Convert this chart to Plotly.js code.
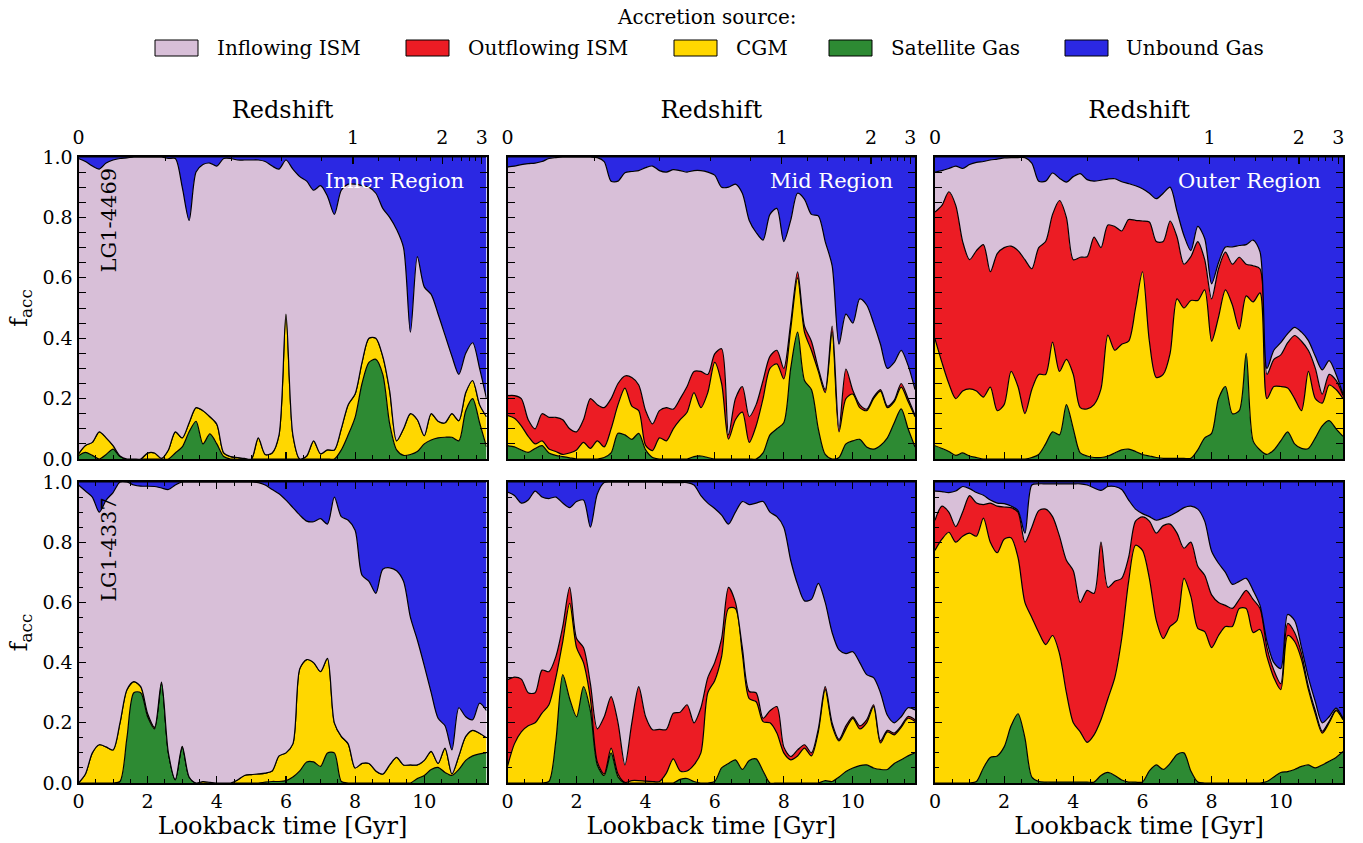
<!DOCTYPE html>
<html>
<head>
<meta charset="utf-8">
<script src="https://cdn.plot.ly/plotly-3.0.1.min.js"></script>
<style>html,body{margin:0;padding:0;background:#fff;}#chart{width:1363px;height:843px;}</style>
</head>
<body>
<div id="chart"></div>
<script>
// ---------------- data (fractions) ----------------
const lookbackGyr = [0,0.2,0.4,0.6,0.8,1.0,1.2,1.4,1.6,1.8,2.0,2.2,2.4,2.6,2.8,3.0,3.2,3.4,3.6,3.8,
  4.0,4.2,4.4,4.6,4.8,5.0,5.2,5.4,5.6,5.8,6.0,6.2,6.4,6.6,6.8,7.0,7.2,7.4,7.6,7.8,
  8.0,8.2,8.4,8.6,8.8,9.0,9.2,9.4,9.6,9.8,10.0,10.2,10.4,10.6,10.8,11.0,11.2,11.4,11.6,11.8];

const sourceNames = ['Satellite Gas','CGM','Outflowing ISM','Inflowing ISM','Unbound Gas'];
const legendOrder = ['Inflowing ISM','Outflowing ISM','CGM','Satellite Gas','Unbound Gas'];
const galaxyLabels = ['LG1-4469','LG1-4337'];
const regionLabels = ['Inner Region','Mid Region','Outer Region'];
const redshiftTicks = [0,1,2,3];
const redshiftMinor = [0.2,0.4,0.6,0.8,1.2,1.4,1.6,1.8,2.2,2.4,2.6,2.8];

// LG1-4469, inner region
const inner4469_satellite = [0.011,0.022,0.012,0,0.015,0.033,0.008,0,0,0, 0,0,0,0,0.02,0.04,0.09,0.125,0.05,0.083,
  0.05,0.008,0,0,0,0,0,0,0,0, 0,0,0,0,0,0,0,0,0.03,0.08,
  0.138,0.25,0.32,0.33,0.28,0.116,0.03,0.012,0.015,0.025, 0.05,0.063,0.07,0.072,0.072,0.06,0.16,0.2,0.12,0.04];
const inner4469_cgm = [0.006,0.023,0.043,0.09,0.055,0.011,0.002,0,0,0, 0.02,0.02,0.002,0.03,0.07,0.03,0.03,0.045,0.11,0.057,
  0.065,0.012,0.008,0.005,0.002,0,0.07,0.015,0.02,0.08, 0.48,0.08,0,0.01,0.06,0.017,0.03,0.03,0.07,0.1,
  0.077,0.07,0.08,0.07,0.06,0.109,0.03,0.088,0.135,0.105, 0.027,0.087,0.055,0.048,0.078,0.067,0.06,0.06,0.06,0.1];
const inner4469_outflow = [0,0,0,0,0,0,0,0,0,0, 0,0,0,0,0,0,0,0,0,0, 0,0,0,0,0,0,0,0,0,0,
  0,0,0,0,0,0,0,0,0,0, 0,0,0,0,0,0,0,0,0,0, 0,0,0,0,0,0,0,0,0,0];
const inner4469_inflow = [0.978,0.94,0.915,0.87,0.91,0.946,0.985,0.997,1,1, 0.98,0.98,0.998,0.965,0.905,0.83,0.67,0.78,0.815,0.84,
  0.855,0.975,0.987,0.985,0.988,0.99,0.92,0.97,0.95,0.88, 0.51,0.88,0.935,0.91,0.83,0.888,0.84,0.78,0.79,0.73,
  0.695,0.585,0.5,0.48,0.49,0.575,0.7,0.6,0.27,0.54, 0.493,0.395,0.355,0.29,0.19,0.153,0.13,0.125,0.12,0.06];
const inner4469_unbound = [0.005,0.015,0.03,0.04,0.02,0.01,0.005,0.003,0,0, 0,0,0,0.005,0.005,0.1,0.21,0.05,0.025,0.02,
  0.03,0.005,0.005,0.01,0.01,0.01,0.01,0.015,0.03,0.04, 0.01,0.04,0.065,0.08,0.11,0.095,0.13,0.19,0.11,0.09,
  0.09,0.095,0.1,0.12,0.17,0.2,0.24,0.3,0.58,0.33, 0.43,0.455,0.52,0.59,0.66,0.72,0.65,0.615,0.7,0.8];

// LG1-4469, mid region
const mid4469_satellite = [0.044,0.04,0.03,0.022,0.035,0.044,0.02,0.012,0.008,0.004, 0,0,0,0,0.005,0.02,0.085,0.08,0.065,0.085,
  0.03,0.005,0,0,0,0,0,0.008,0.01,0.005, 0,0,0,0,0,0,0,0.02,0.08,0.1,
  0.12,0.3,0.42,0.26,0.23,0.1,0.015,0,0.005,0.05, 0.06,0.065,0.04,0.033,0.045,0.07,0.12,0.166,0.1,0.04];
const mid4469_cgm = [0.1,0.095,0.08,0.053,0.015,0.016,0.013,0.013,0.007,0.016, 0.03,0.055,0.035,0.06,0.035,0.08,0.095,0.155,0.11,0.075,
  0.015,0.023,0.07,0.06,0.1,0.13,0.155,0.212,0.16,0.215, 0.32,0.25,0.066,0.13,0.155,0.055,0.11,0.18,0.22,0.215,
  0.145,0.13,0.18,0.16,0.13,0.19,0.205,0.42,0.085,0.15, 0.155,0.105,0.12,0.167,0.18,0.1,0.07,0.072,0.09,0.1];
const mid4469_outflow = [0.066,0.075,0.09,0.055,0.05,0.09,0.105,0.113,0.115,0.08, 0.06,0.075,0.165,0.12,0.13,0.1,0.07,0.04,0.095,0.085,
  0.115,0.088,0.09,0.11,0.065,0.07,0.085,0.07,0.12,0.06, 0.028,0.115,0.014,0.07,0.085,0.085,0.07,0.06,0.04,0.045,
  0.035,0.02,0.02,0.02,0.03,0.01,0.01,0.02,0.01,0.098, 0.012,0.01,0.005,0.005,0.005,0.005,0.005,0.012,0.01,0.005];
const mid4469_inflow = [0.757,0.76,0.775,0.848,0.88,0.835,0.857,0.86,0.87,0.9, 0.91,0.87,0.8,0.818,0.815,0.72,0.67,0.673,0.682,0.71,
  0.805,0.854,0.795,0.78,0.793,0.755,0.71,0.665,0.665,0.67, 0.592,0.535,0.82,0.71,0.64,0.65,0.57,0.465,0.47,0.47,
  0.42,0.34,0.26,0.42,0.42,0.505,0.49,0.2,0.28,0.182, 0.223,0.35,0.345,0.245,0.15,0.125,0.125,0.11,0.11,0.085];
const mid4469_unbound = [0.033,0.03,0.025,0.022,0.02,0.015,0.005,0.002,0,0, 0,0,0,0.002,0.015,0.08,0.08,0.052,0.048,0.045,
  0.035,0.03,0.045,0.05,0.042,0.045,0.05,0.045,0.045,0.05, 0.06,0.1,0.1,0.09,0.12,0.21,0.25,0.275,0.19,0.17,
  0.28,0.21,0.12,0.14,0.19,0.195,0.28,0.36,0.62,0.52, 0.55,0.47,0.49,0.55,0.62,0.7,0.68,0.64,0.69,0.77];

// LG1-4469, outer region
const outer4469_satellite = [0.044,0.035,0.025,0.012,0.02,0.01,0.005,0,0,0, 0,0,0,0,0.005,0.015,0.05,0.09,0.08,0.18,
  0.1,0.02,0.01,0.005,0.005,0.01,0.02,0.03,0.033,0.025, 0.015,0.01,0.005,0.002,0.002,0.002,0.002,0.002,0.03,0.07,
  0.085,0.2,0.24,0.15,0.16,0.35,0.06,0.03,0.015,0.03, 0.06,0.09,0.05,0.035,0.035,0.07,0.11,0.127,0.1,0.075];
const outer4469_cgm = [0.354,0.285,0.225,0.188,0.205,0.222,0.22,0.205,0.238,0.16, 0.18,0.29,0.24,0.15,0.225,0.265,0.23,0.297,0.21,0.15,
  0.18,0.15,0.156,0.175,0.227,0.4,0.34,0.35,0.357,0.475, 0.605,0.38,0.265,0.278,0.348,0.528,0.498,0.523,0.495,0.49,
  0.305,0.27,0.32,0.36,0.27,0.19,0.46,0.52,0.185,0.21, 0.18,0.145,0.15,0.125,0.255,0.13,0.075,0.118,0.13,0.125];
const outer4469_outflow = [0.42,0.52,0.635,0.64,0.495,0.428,0.465,0.505,0.382,0.52, 0.52,0.415,0.45,0.51,0.4,0.42,0.44,0.423,0.566,0.47,
  0.38,0.498,0.504,0.555,0.468,0.365,0.41,0.375,0.403,0.29, 0.168,0.395,0.45,0.44,0.438,0.205,0.145,0.145,0.195,0.1,
  0.14,0.16,0.125,0.135,0.238,0.105,0.12,0.08,0.08,0.09, 0.105,0.15,0.209,0.23,0.069,0.1,0.03,0.035,0.03,0.01];
const outer4469_inflow = [0.132,0.115,0.077,0.13,0.242,0.315,0.292,0.275,0.37,0.313, 0.297,0.293,0.308,0.338,0.35,0.22,0.2,0.137,0.074,0.117,
  0.275,0.277,0.255,0.185,0.223,0.152,0.158,0.163,0.119,0.115, 0.107,0.095,0.142,0.16,0.112,0.085,0.095,0.02,0.05,0.07,
  0.05,0.02,0.017,0.057,0.039,0.065,0.085,0.056,0.02,0.03, 0.04,0.03,0.027,0.03,0.033,0.04,0.08,0.046,0.02,0.005];
const outer4469_unbound = [0.05,0.045,0.038,0.03,0.038,0.025,0.018,0.015,0.01,0.007, 0.003,0.002,0.002,0.002,0.02,0.08,0.08,0.053,0.07,0.083,
  0.065,0.055,0.075,0.08,0.077,0.073,0.072,0.082,0.088,0.095, 0.105,0.12,0.138,0.12,0.1,0.18,0.26,0.31,0.23,0.27,
  0.42,0.35,0.298,0.298,0.293,0.29,0.275,0.314,0.7,0.64, 0.615,0.585,0.564,0.58,0.608,0.66,0.705,0.674,0.72,0.785];

// LG1-4337, inner region
const inner4337_satellite = [0,0,0,0,0,0,0.005,0.15,0.3,0.3, 0.22,0.18,0.33,0.1,0.01,0.12,0.02,0,0,0,
  0,0,0,0,0,0,0,0.003,0.005,0.005, 0.008,0.02,0.04,0.07,0.07,0.055,0.1,0.1,0.005,0,
  0,0,0,0,0,0,0,0,0,0.015, 0.025,0.045,0.052,0.035,0.025,0.045,0.075,0.09,0.097,0.1];
const inner4337_cgm = [0,0.03,0.1,0.127,0.12,0.11,0.195,0.16,0.037,0.02, 0.01,0.005,0.005,0,0.002,0.002,0,0,0.005,0.002,
  0,0,0,0.01,0.025,0.028,0.03,0.03,0.035,0.085, 0.092,0.11,0.34,0.34,0.33,0.315,0.314,0.1,0.15,0.13,
  0.05,0.065,0.065,0.04,0.03,0.06,0.085,0.06,0.06,0.045, 0.05,0.06,0.013,0.081,0.005,0.045,0.08,0.085,0.068,0.05];
const inner4337_outflow = [0,0,0,0,0,0,0,0,0,0, 0,0,0,0,0,0,0,0,0,0, 0,0,0,0,0,0,0,0,0,0,
  0,0,0,0,0,0,0,0,0,0, 0,0,0,0,0,0,0,0,0,0, 0,0,0,0,0,0,0,0,0,0];
const inner4337_inflow = [0.99,0.94,0.85,0.773,0.82,0.855,0.8,0.69,0.653,0.666, 0.756,0.8,0.645,0.875,0.978,0.878,0.98,1,0.995,0.998,
  1,1,1,0.99,0.975,0.972,0.968,0.957,0.935,0.871, 0.84,0.785,0.51,0.46,0.468,0.508,0.446,0.75,0.73,0.743,
  0.79,0.625,0.605,0.59,0.68,0.655,0.62,0.61,0.49,0.415, 0.315,0.195,0.15,0.074,0.08,0.16,0.065,0.035,0.1,0.09];
const inner4337_unbound = [0.01,0.03,0.05,0.1,0.06,0.035,0,0,0.01,0.014, 0.014,0.015,0.02,0.025,0.01,0,0,0,0,0,
  0,0,0,0,0,0,0.002,0.01,0.025,0.039, 0.06,0.085,0.11,0.13,0.132,0.122,0.14,0.05,0.115,0.127,
  0.16,0.31,0.33,0.37,0.29,0.285,0.295,0.33,0.45,0.525, 0.61,0.7,0.785,0.81,0.89,0.75,0.78,0.79,0.735,0.76];

// LG1-4337, mid region
const mid4337_satellite = [0,0,0,0,0,0,0.005,0.14,0.36,0.28, 0.22,0.32,0.24,0.06,0.025,0.1,0.02,0,0,0,
  0,0,0,0,0,0.012,0.015,0.005,0,0, 0.005,0.05,0.065,0.077,0.045,0.075,0.08,0.04,0,0,
  0,0,0,0,0,0,0.008,0.005,0.02,0.038, 0.05,0.058,0.06,0.05,0.045,0.045,0.065,0.077,0.09,0.1];
const mid4337_cgm = [0.055,0.13,0.17,0.19,0.2,0.232,0.255,0.21,0.11,0.317, 0.23,0.08,0.04,0.01,0.005,0.016,0.01,0.002,0.008,0.008,
  0.006,0.005,0.005,0.033,0.08,0.028,0.025,0.055,0.1,0.3, 0.335,0.37,0.515,0.503,0.385,0.205,0.19,0.164,0.2,0.166,
  0.1,0.077,0.09,0.116,0.09,0.17,0.302,0.185,0.12,0.142, 0.165,0.122,0.14,0.204,0.088,0.125,0.095,0.108,0.125,0.104];
const mid4337_outflow = [0.288,0.222,0.175,0.11,0.1,0.143,0.11,0.07,0.05,0.053, 0.03,0.05,0.05,0.11,0.19,0.171,0.17,0.058,0.192,0.312,
  0.214,0.172,0.173,0.145,0.152,0.195,0.22,0.14,0.15,0.05, 0.06,0.06,0.07,0.02,0.02,0.024,0.03,0.011,0.04,0.088,
  0.02,0.011,0.02,0.011,0.01,0.01,0.01,0.01,0.005,0.01, 0.005,0.01,0.01,0.006,0.007,0.005,0.006,0.005,0.006,0.006];
const mid4337_inflow = [0.624,0.603,0.585,0.64,0.67,0.575,0.575,0.53,0.41,0.265, 0.455,0.49,0.52,0.78,0.778,0.713,0.8,0.94,0.8,0.68,
  0.78,0.823,0.822,0.82,0.766,0.763,0.738,0.79,0.705,0.58, 0.512,0.41,0.21,0.3,0.485,0.621,0.63,0.72,0.66,0.631,
  0.73,0.652,0.55,0.478,0.51,0.483,0.28,0.3,0.297,0.24, 0.216,0.21,0.15,0.09,0.16,0.05,0.034,0.03,0.029,0.033];
const mid4337_unbound = [0.033,0.045,0.07,0.06,0.03,0.05,0.055,0.05,0.07,0.085, 0.065,0.06,0.15,0.04,0.002,0,0,0,0,0,
  0,0,0,0.002,0.002,0.002,0.002,0.01,0.045,0.07, 0.088,0.11,0.14,0.1,0.065,0.075,0.07,0.065,0.1,0.115,
  0.15,0.26,0.34,0.395,0.39,0.337,0.4,0.5,0.558,0.57, 0.564,0.6,0.64,0.65,0.7,0.775,0.8,0.78,0.75,0.757];

// LG1-4337, outer region
const outer4337_satellite = [0,0,0,0,0,0,0.005,0.05,0.085,0.09, 0.12,0.19,0.23,0.15,0.02,0.005,0.003,0.003,0.003,0.003,
  0.003,0.003,0.003,0.003,0.025,0.035,0.025,0.01,0.003,0.003, 0.003,0.04,0.06,0.045,0.065,0.095,0.1,0.04,0.003,0,
  0,0,0,0,0,0,0,0,0.005,0.02, 0.035,0.038,0.045,0.055,0.06,0.05,0.06,0.072,0.085,0.105];
const outer4337_cgm = [0.773,0.81,0.833,0.8,0.82,0.83,0.815,0.83,0.715,0.675, 0.69,0.625,0.52,0.45,0.53,0.495,0.457,0.487,0.427,0.297,
  0.197,0.167,0.132,0.157,0.185,0.245,0.325,0.47,0.667,0.787, 0.77,0.64,0.48,0.435,0.455,0.445,0.58,0.58,0.511,0.503,
  0.45,0.49,0.52,0.52,0.58,0.58,0.5,0.51,0.415,0.33, 0.275,0.452,0.425,0.355,0.25,0.18,0.106,0.128,0.155,0.105];
const outer4337_outflow = [0.1,0.11,0.067,0.052,0.08,0.125,0.11,0.045,0.13,0.155, 0.107,0.1,0.15,0.2,0.3,0.405,0.45,0.395,0.39,0.44,
  0.505,0.43,0.505,0.47,0.59,0.37,0.32,0.2,0.08,0.08, 0.111,0.19,0.29,0.375,0.34,0.29,0.1,0.18,0.206,0.187,
  0.175,0.11,0.07,0.06,0.03,0.06,0.11,0.07,0.03,0.025, 0.02,0.04,0.03,0.02,0.01,0.01,0.006,0.005,0.003,0.002];
const outer4337_inflow = [0.097,0.048,0.065,0.118,0.085,0.023,0.035,0.031,0.01,0.01, 0.011,0.005,0.005,0.03,0.14,0.089,0.084,0.109,0.174,0.254,
  0.289,0.394,0.35,0.35,0.172,0.335,0.315,0.295,0.19,0.04, 0.011,0.015,0.043,0.025,0.028,0.07,0.135,0.12,0.19,0.18,
  0.145,0.13,0.11,0.08,0.06,0.04,0.03,0.01,0.02,0.025, 0.05,0.03,0.04,0.02,0.03,0.03,0.028,0.015,0.006,0.003];
const outer4337_unbound = [0.03,0.032,0.035,0.03,0.015,0.022,0.035,0.044,0.06,0.07, 0.072,0.08,0.095,0.17,0.01,0.006,0.006,0.006,0.006,0.006,
  0.006,0.006,0.01,0.02,0.028,0.015,0.015,0.025,0.06,0.09, 0.105,0.115,0.127,0.12,0.112,0.1,0.085,0.08,0.09,0.13,
  0.23,0.27,0.3,0.34,0.33,0.32,0.36,0.41,0.53,0.6, 0.62,0.44,0.46,0.55,0.65,0.73,0.8,0.78,0.751,0.785];

// ---------------- styling ----------------
const sourceColors = {
  'Satellite Gas':'#2d8a33', 'CGM':'#ffd700', 'Outflowing ISM':'#ec1c24',
  'Inflowing ISM':'#d8bfd8', 'Unbound Gas':'#2b28e3'
};
const FONT = 'DejaVu Serif, serif';
const W = 1363, H = 843;

const panels = [
  [inner4469_satellite, inner4469_cgm, inner4469_outflow, inner4469_inflow, inner4469_unbound],
  [mid4469_satellite, mid4469_cgm, mid4469_outflow, mid4469_inflow, mid4469_unbound],
  [outer4469_satellite, outer4469_cgm, outer4469_outflow, outer4469_inflow, outer4469_unbound],
  [inner4337_satellite, inner4337_cgm, inner4337_outflow, inner4337_inflow, inner4337_unbound],
  [mid4337_satellite, mid4337_cgm, mid4337_outflow, mid4337_inflow, mid4337_unbound],
  [outer4337_satellite, outer4337_cgm, outer4337_outflow, outer4337_inflow, outer4337_unbound]
];

// pixel layout of the panels
const colPx = [[78.5,486.5],[507.5,915],[935,1343]];
const rowPx = [[157,459],[482,783]];
const xDom = c => [colPx[c][0]/W, colPx[c][1]/W];
const yDom = r => [1-rowPx[r][1]/H, 1-rowPx[r][0]/H];

// flat LCDM lookback time (Planck 2013) for the redshift axis
function lookbackOfZ(z){
  const H0=67.77, Om=0.307, OL=1-Om, tH=977.8/H0, n=400;
  if(z<=0) return 0;
  const h=z/n; let s=0;
  for(let i=0;i<=n;i++){
    const zz=i*h;
    const f=1/((1+zz)*Math.sqrt(Om*Math.pow(1+zz,3)+OL));
    s += (i===0||i===n)?f:(i%2?4*f:2*f);
  }
  return tH*s*h/3;
}

const traces = [];
const layout = {
  width: W, height: H,
  margin: {l:0, r:0, t:0, b:0},
  paper_bgcolor: '#ffffff', plot_bgcolor: '#ffffff',
  font: {family: FONT, size: 19, color: '#000'},
  showlegend: false,
  shapes: [], annotations: []
};

const XMAX = 11.8;
panels.forEach((arrs, p) => {
  const r = Math.floor(p/3), c = p%3;
  const n = p+1;
  const xa = n===1 ? 'x' : 'x'+n, ya = n===1 ? 'y' : 'y'+n;
  arrs.forEach((vals, k) => {
    traces.push({
      type: 'scatter', mode: 'lines', x: lookbackGyr, y: vals,
      name: sourceNames[k], stackgroup: 'panel'+n,
      line: {color: '#000', width: 1.2, shape: 'spline', smoothing: 0.8},
      fillcolor: sourceColors[sourceNames[k]],
      xaxis: xa, yaxis: ya, showlegend: false
    });
  });
  const xKey = n===1 ? 'xaxis' : 'xaxis'+n, yKey = n===1 ? 'yaxis' : 'yaxis'+n;
  const xAxis = {
    domain: xDom(c), anchor: ya, range: [0, XMAX], autorange: false,
    tick0: 0, dtick: 2, ticks: 'inside', ticklen: 7, tickwidth: 1.2, tickcolor: '#000',
    minor: {dtick: 0.5, tick0: 0, ticks: 'inside', ticklen: 4, tickwidth: 1, tickcolor: '#000'},
    showline: true, linewidth: 2, linecolor: '#000',
    mirror: r===1 ? 'allticks' : true,
    showgrid: false, zeroline: false,
    showticklabels: r===1,
    tickfont: {family: FONT, size: 19}
  };
  if (r===1) xAxis.title = {text: 'Lookback time [Gyr]', font: {family: FONT, size: 24}, standoff: 5};
  layout[xKey] = xAxis;
  const yAxis = {
    domain: yDom(r), anchor: xa, range: [0, 1], autorange: false,
    tick0: 0, dtick: 0.2, tickformat: '.1f',
    ticks: 'inside', ticklen: 7, tickwidth: 1.2, tickcolor: '#000',
    minor: {dtick: 0.05, tick0: 0, ticks: 'inside', ticklen: 4, tickwidth: 1, tickcolor: '#000'},
    showline: true, linewidth: 2, linecolor: '#000', mirror: 'allticks',
    showgrid: false, zeroline: false,
    showticklabels: c===0,
    tickfont: {family: FONT, size: 19}
  };
  if (c===0) yAxis.title = {text: 'f<sub>acc</sub>', font: {family: FONT, size: 24}, standoff: 8};
  layout[yKey] = yAxis;
  // region / galaxy labels
  if (r===0) {
    layout.annotations.push({
      xref: xa+' domain', yref: ya+' domain', x: 0.95, y: 0.92,
      xanchor: 'right', yanchor: 'middle', showarrow: false,
      text: regionLabels[c], font: {family: FONT, size: 21, color: '#ffffff'}
    });
  }
  if (c===0) {
    layout.annotations.push({
      xref: xa+' domain', yref: ya+' domain', x: 0.075, y: r===0 ? 0.79 : 0.775,
      xanchor: 'center', yanchor: 'middle', showarrow: false, textangle: -90,
      text: galaxyLabels[r], font: {family: FONT, size: 21, color: '#000'}
    });
  }
});

// redshift axes on top of the upper row
const zVals = redshiftTicks.map(lookbackOfZ);
const zMinorVals = redshiftMinor.map(lookbackOfZ);
[0,1,2].forEach(c => {
  const base = c===0 ? 'x' : 'x'+(c+1);
  const ya = c===0 ? 'y' : 'y'+(c+1);
  const n = 7+c;
  layout['xaxis'+n] = {
    overlaying: base, anchor: ya, side: 'top', range: [0, XMAX], autorange: false,
    tickmode: 'array', tickvals: zVals, ticktext: redshiftTicks.map(String),
    ticks: 'inside', ticklen: 7, tickwidth: 1.2, tickcolor: '#000',
    minor: {tickmode: 'array', tickvals: zMinorVals, ticks: 'inside', ticklen: 4, tickwidth: 1, tickcolor: '#000'},
    showline: false, showgrid: false, zeroline: false,
    ticklabelstandoff: 8,
    tickfont: {family: FONT, size: 19},
    title: {text: 'Redshift', font: {family: FONT, size: 24}, standoff: 0}
  };
  traces.push({type: 'scatter', mode: 'markers', x: [0], y: [0], marker: {opacity: 0, size: 1},
    xaxis: 'x'+n, yaxis: ya, showlegend: false, hoverinfo: 'skip'});
});

// legend (drawn as patches + text)
const legendPatchLeft = [155, 406, 674, 829, 1065];
const legendTextLeft = [215, 466, 734, 889, 1124];
legendOrder.forEach((name, i) => {
  layout.shapes.push({
    type: 'rect', xref: 'paper', yref: 'paper',
    x0: legendPatchLeft[i]/W, x1: (legendPatchLeft[i]+43)/W,
    y0: 1-56/H, y1: 1-40/H,
    fillcolor: sourceColors[name], line: {color: '#000', width: 1}
  });
  layout.annotations.push({
    xref: 'paper', yref: 'paper', x: legendTextLeft[i]/W, y: 1-48/H,
    xanchor: 'left', yanchor: 'middle', showarrow: false,
    text: name, font: {family: FONT, size: 20, color: '#000'}
  });
});
layout.annotations.push({
  xref: 'paper', yref: 'paper', x: 707/W, y: 1-17/H,
  xanchor: 'center', yanchor: 'middle', showarrow: false,
  text: 'Accretion source:', font: {family: FONT, size: 20, color: '#000'}
});

Plotly.newPlot('chart', traces, layout, {staticPlot: true, displayModeBar: false});
</script>
</body>
</html>
